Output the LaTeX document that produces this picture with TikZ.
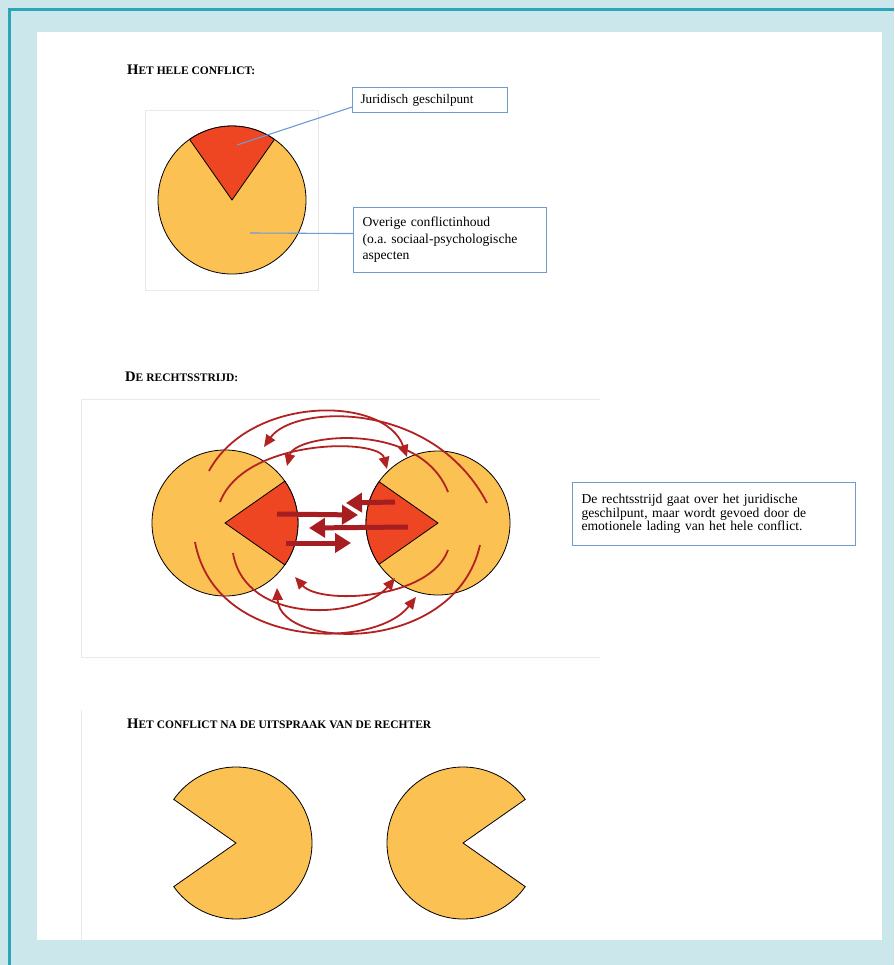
\documentclass[tikz,border=0pt]{standalone}
\usepackage{fontspec}
\setmainfont{Liberation Serif}
\usetikzlibrary{arrows.meta,calc}
\frenchspacing
\definecolor{bgcyan}{HTML}{CBE7EB}
\definecolor{tealline}{HTML}{2BA6B6}
\definecolor{pieorange}{HTML}{FBC153}
\definecolor{piered}{HTML}{EE4623}
\definecolor{arrowred}{HTML}{B22222}
\definecolor{thickred}{HTML}{A61E22}
\definecolor{boxblue}{HTML}{6E9BD0}
\definecolor{faintgray}{HTML}{E9E9E9}
\newcommand{\myBigCap}[1]{{\fontsize{14.6}{15}\selectfont\bfseries #1}}
\newcommand{\mySmallCap}[1]{{\fontsize{11.5}{12}\selectfont\bfseries #1}}
\tikzset{
  orangepart/.style={fill=pieorange, draw=black, line width=0.8pt},
  redpart/.style={fill=piered, draw=black, line width=0.8pt},
  thinarrow/.style={draw=arrowred, line width=1.8pt, -{Triangle[length=12pt,width=10.5pt]}},
  thickarrow/.style={draw=thickred, line width=5pt, -{Triangle[length=16pt,width=19pt]}},
  infobox/.style={draw=boxblue, line width=1.1pt, fill=white, align=left, anchor=north west},
  leader/.style={draw=boxblue, line width=1.1pt},
  faintframe/.style={draw=faintgray, line width=0.8pt},
  titletext/.style={anchor=base west, inner sep=0pt}
}
\begin{document}
\begin{tikzpicture}[x=1pt,y=1pt]
\useasboundingbox (0,0) rectangle (894,-965);
% background and page
\fill[bgcyan] (0,0) rectangle (894,-965);
\fill[white] (37,-32) rectangle (882,-940);
\draw[tealline, line width=3pt] (8,-10) -- (894,-10);
\draw[tealline, line width=3pt] (9,-9) -- (9,-965);

% ---------- section 1 ----------
\node[titletext] (t1) at (127,-75) {\myBigCap{H}\mySmallCap{ET HELE CONFLICT:}};
\draw[faintframe] (145,-110) rectangle (318,-290);
\coordinate (c1) at (232,-200);
\draw[orangepart] (c1) circle (74);
\draw[redpart] (c1) -- ++(55:74) arc (55:125:74) -- cycle;
\coordinate (jurpt) at (237,-145);
\coordinate (overpt) at (250,-233);
\node[infobox, text width=139pt, inner xsep=8pt, minimum height=25pt,
      font=\fontsize{13.2}{15}\selectfont] (jur) at (352,-87) {Juridisch geschilpunt};
\node[infobox, text width=175pt, inner xsep=9pt, minimum height=65pt,
      font=\fontsize{13.6}{16.5}\selectfont] (over) at (353,-207)
      {Overige conflictinhoud\\(o.a. sociaal-psychologische\\aspecten};
\draw[leader] ([yshift=-7pt]jur.west) -- (jurpt);
\draw[leader] ([yshift=6.5pt]over.west) -- (overpt);

% ---------- section 2 ----------
\node[titletext] (t2) at (125,-381) {\myBigCap{D}\mySmallCap{E RECHTSSTRIJD:}};
\draw[faintframe] (600,-399) -- (81,-399) -- (81,-657) -- (600,-657);
\coordinate (cl) at (225,-523);
\coordinate (cr) at (438,-523);
\draw[orangepart] (cl) circle (73);
\draw[orangepart] (cr) circle (72);
\draw[redpart] (cl) -- ++(-35:73) arc (-35:35:73) -- cycle;
\draw[redpart] (cr) -- ++(145:72) arc (145:215:72) -- cycle;

% thin curved arrows (top)
\coordinate (a1) at (209,-471); \coordinate (a2) at (407,-457);
\coordinate (b1) at (487,-503); \coordinate (b2) at (264,-447);
\coordinate (d1) at (220,-502); \coordinate (d2) at (387,-469);
\coordinate (e1) at (448,-492); \coordinate (e2) at (287,-466);
\draw[thinarrow] (a1) .. controls (250,-395) and (385,-395) .. (a2);
\draw[thinarrow] (b1) .. controls (432,-398) and (293,-405) .. (b2);
\draw[thinarrow] (d1) .. controls (245,-438) and (379,-438) .. (d2);
\draw[thinarrow] (e1) .. controls (420,-420) and (295,-434) .. (e2);
% thin curved arrows (bottom)
\coordinate (f1) at (195,-542); \coordinate (f2) at (416,-597);
\coordinate (g1) at (480,-545); \coordinate (g2) at (277,-588);
\coordinate (h1) at (233,-553); \coordinate (h2) at (395,-578);
\coordinate (k1) at (448,-550); \coordinate (k2) at (295,-577);
\draw[thinarrow] (f1) .. controls (215,-650) and (375,-650) .. (f2);
\draw[thinarrow] (g1) .. controls (455,-655) and (280,-650) .. (g2);
\draw[thinarrow] (h1) .. controls (245,-625) and (360,-620) .. (h2);
\draw[thinarrow] (k1) .. controls (430,-600) and (320,-605) .. (k2);

% thick straight arrows
\coordinate (p1) at (277,-514); \coordinate (p2) at (358,-515);
\coordinate (q1) at (395,-502); \coordinate (q2) at (346,-503);
\coordinate (r1) at (408,-527); \coordinate (r2) at (309,-528);
\coordinate (s1) at (286,-543); \coordinate (s2) at (351,-543);
\draw[thickarrow] (p1) -- (p2);
\draw[thickarrow] (q1) -- (q2);
\draw[thickarrow] (r1) -- (r2);
\draw[thickarrow] (s1) -- (s2);

\node[infobox, text width=265pt, inner xsep=9pt, minimum height=63pt,
      font=\fontsize{13.6}{13.6}\selectfont] (info) at (572,-482)
      {De rechtsstrijd gaat over het juridische\\geschilpunt, maar wordt gevoed door de\\emotionele lading van het hele conflict.};

% ---------- section 3 ----------
\node[titletext] (t3) at (127,-728) {\myBigCap{H}\mySmallCap{ET CONFLICT NA DE UITSPRAAK VAN DE RECHTER}};
\draw[faintframe] (81,-710) -- (81,-940);
\coordinate (pl) at (236,-843);
\coordinate (pr) at (463,-843);
\draw[orangepart] (pl) -- ++(145:76) arc (145:-145:76) -- cycle;
\draw[orangepart] (pr) -- ++(35:76) arc (35:325:76) -- cycle;
\end{tikzpicture}
\end{document}
